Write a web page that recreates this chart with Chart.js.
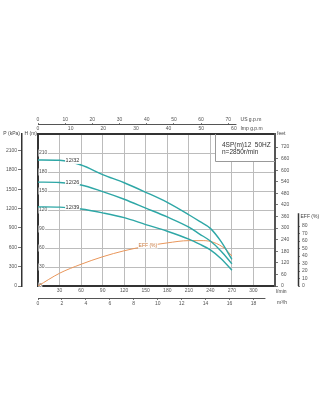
<!DOCTYPE html>
<html>
<head>
<meta charset="utf-8">
<script src="https://cdn.jsdelivr.net/npm/chart.js@4.4.1/dist/chart.umd.min.js"></script>
<style>
  html, body { margin: 0; padding: 0; background: #fff; }
  canvas { display: block; }
</style>
</head>
<body>
<canvas id="pumpChart" width="320" height="420"></canvas>
<script>
// flow in l/min, head in m
const flow = [0, 30, 60, 90, 120, 150, 180, 210, 225, 240, 255, 270];
const head1232 = [199, 198.5, 191, 176, 163, 148, 132, 112.5, 102, 91, 70, 42];
const head1226 = [164, 163.5, 159.5, 149, 137, 123, 109, 93, 82, 71, 55, 35];
const head1239 = [125, 124.5, 121.5, 115.5, 108, 97, 86.5, 74, 66, 57, 43, 25];
const effFlow = [0, 30, 60, 90, 120, 150, 180, 210, 230, 245, 260, 270];
const efficiency = [0, 17, 29, 39, 47, 53, 57.5, 60.5, 60.5, 58, 50, 40];

// tick labels of every axis
const lpmTicks = [30, 60, 90, 120, 150, 180, 210, 240, 270, 300];
const m3hTicks = [0, 2, 4, 6, 8, 10, 12, 14, 16, 18];
const usTicks = [0, 10, 20, 30, 40, 50, 60, 70];
const impTicks = [0, 10, 20, 30, 40, 50, 60];
const headTicks = [0, 30, 60, 90, 120, 150, 180, 210];
const kpaTicks = [0, 300, 600, 900, 1200, 1500, 1800, 2100];
const feetTicks = [0, 60, 120, 180, 240, 300, 360, 420, 480, 540, 600, 660, 720];
const effTicks = [0, 10, 20, 30, 40, 50, 60, 70, 80];

const FLOW_MAX = 330;
const HEAD_MAX = 240;

const CYAN = '#2ea7a6';
const ORANGE = '#e9965a';
const GRID = '#bcbcbc';
const DARK = '#333';

Chart.defaults.font.family = '"Liberation Sans", Arial, sans-serif';
Chart.defaults.font.size = 5;
Chart.defaults.color = '#555';

const toPoints = (xs, ys) => xs.map((x, i) => ({ x: x, y: ys[i] }));
const setTicks = list => scale => { scale.ticks = list.map(v => ({ value: v })); };
const tickOpts = extra => Object.assign({ callback: v => String(v), autoSkip: false, maxRotation: 0 }, extra);

// small tick marks outside the plot, no grid on the area
const outerTicks = (len) => ({ display: true, drawOnChartArea: false, drawTicks: len > 0, tickLength: len, color: '#555', lineWidth: 0.8 });

const curveLabels = [
  ['12/32', 48, 197.5],
  ['12/26', 48, 163],
  ['12/39', 48, 124.5]
];

const extras = {
  id: 'extras',
  afterDraw(chart) {
    const { ctx, chartArea: a, scales } = chart;
    ctx.save();

    // partial axis lines
    ctx.strokeStyle = '#555';
    ctx.lineWidth = 1;
    ctx.beginPath();
    const usY = scales.us.bottom - 0.5;
    ctx.moveTo(a.left, usY);
    ctx.lineTo(scales.us.getPixelForValue(73), usY);
    const m3Y = scales.m3h.top + 0.5;
    ctx.moveTo(a.left, m3Y);
    ctx.lineTo(scales.m3h.getPixelForValue(19), m3Y);
    ctx.stroke();

    ctx.strokeStyle = DARK;
    ctx.lineWidth = 1.5;
    ctx.beginPath();
    const effX = scales.eff.left + 0.5;
    ctx.moveTo(effX, scales.eff.getPixelForValue(0));
    ctx.lineTo(effX, scales.eff.getPixelForValue(97));
    ctx.stroke();

    // unit labels
    ctx.fillStyle = '#444';
    ctx.font = '5px "Liberation Sans", Arial, sans-serif';
    ctx.textBaseline = 'middle';
    ctx.textAlign = 'right';
    ctx.fillText('P (kPa)', 20, a.top);
    ctx.fillText('H (m)', 37, a.top);
    ctx.textAlign = 'left';
    ctx.fillText('feet', a.right + 2, a.top);
    ctx.fillText('US g.p.m', scales.us.getPixelForValue(74.5), scales.us.bottom - 5);
    ctx.fillText('Imp g.p.m', scales.imp.getPixelForValue(62), scales.imp.bottom - 5);
    ctx.fillText('l/min', a.right + 1, a.bottom + 6);
    ctx.fillText('m\u00b3/h', a.right + 2, scales.m3h.top + 5);
    ctx.fillText('EFF (%)', effX + 2, scales.eff.getPixelForValue(92));

    // model box
    const boxL = 215.5;
    const boxB = 161.5;
    ctx.fillStyle = '#fff';
    ctx.fillRect(boxL, a.top + 1, a.right - boxL - 1, boxB - a.top - 1);
    ctx.strokeStyle = '#999';
    ctx.lineWidth = 1;
    ctx.beginPath();
    ctx.moveTo(boxL, a.top);
    ctx.lineTo(boxL, boxB);
    ctx.lineTo(a.right, boxB);
    ctx.stroke();
    ctx.fillStyle = DARK;
    ctx.font = '6.5px "Liberation Sans", Arial, sans-serif';
    ctx.fillText('4SP(m)12  50HZ', 222, 145);
    ctx.fillText('n=2850r/min', 222, 152.5);

    // curve labels
    ctx.font = '5.5px "Liberation Sans", Arial, sans-serif';
    ctx.textAlign = 'center';
    const x = scales.x, y = scales.y;
    curveLabels.forEach(([txt, f, h]) => {
      const px = x.getPixelForValue(f), py = y.getPixelForValue(h);
      const w = ctx.measureText(txt).width;
      ctx.fillStyle = '#fff';
      ctx.fillRect(px - w / 2 - 0.5, py - 3, w + 1, 6);
      ctx.fillStyle = DARK;
      ctx.fillText(txt, px, py);
    });
    const ex = x.getPixelForValue(153), ey = scales.eff.getPixelForValue(54);
    ctx.font = '5px "Liberation Sans", Arial, sans-serif';
    const ew = ctx.measureText('EFF (%)').width;
    ctx.fillStyle = '#fff';
    ctx.fillRect(ex - ew / 2 - 0.5, ey - 3, ew + 1, 6);
    ctx.fillStyle = '#c87a40';
    ctx.fillText('EFF (%)', ex, ey);

    ctx.restore();
  }
};

const curveStyle = {
  borderColor: CYAN,
  borderWidth: 1.4,
  pointRadius: 0,
  cubicInterpolationMode: 'monotone',
  xAxisID: 'x',
  yAxisID: 'y'
};

new Chart(document.getElementById('pumpChart'), {
  type: 'line',
  data: {
    datasets: [
      Object.assign({ label: '12/32', data: toPoints(flow, head1232) }, curveStyle),
      Object.assign({ label: '12/26', data: toPoints(flow, head1226) }, curveStyle),
      Object.assign({ label: '12/39', data: toPoints(flow, head1239) }, curveStyle),
      {
        label: 'EFF (%)',
        data: toPoints(effFlow, efficiency),
        borderColor: ORANGE,
        borderWidth: 1,
        pointRadius: 0,
        cubicInterpolationMode: 'monotone',
        xAxisID: 'x',
        yAxisID: 'eff'
      }
    ]
  },
  options: {
    responsive: false,
    animation: false,
    devicePixelRatio: 1,
    layout: { padding: { top: 115, bottom: 108, left: 0, right: 0 } },
    plugins: { legend: { display: false }, tooltip: { enabled: false } },
    scales: {
      x: {
        type: 'linear', position: 'bottom', weight: 0,
        min: 0, max: FLOW_MAX,
        afterBuildTicks: setTicks(lpmTicks),
        afterFit: s => { s.height = 12; },
        ticks: tickOpts({ padding: 2 }),
        grid: { color: GRID, lineWidth: 1, drawTicks: false },
        border: { color: DARK, width: 2 }
      },
      m3h: {
        type: 'linear', position: 'bottom', weight: 1,
        min: 0, max: FLOW_MAX * 0.06,
        afterBuildTicks: setTicks(m3hTicks),
        afterFit: s => { s.height = 14; },
        ticks: tickOpts({ padding: 0.5 }),
        grid: outerTicks(2),
        border: { display: false }
      },
      us: {
        type: 'linear', position: 'top', weight: 1,
        min: 0, max: FLOW_MAX / 3.785,
        afterBuildTicks: setTicks(usTicks),
        afterFit: s => { s.height = 10; },
        ticks: tickOpts({ padding: 0.5 }),
        grid: outerTicks(2),
        border: { display: false }
      },
      imp: {
        type: 'linear', position: 'top', weight: 0,
        min: 0, max: FLOW_MAX / 4.546,
        afterBuildTicks: setTicks(impTicks),
        afterFit: s => { s.height = 9; },
        ticks: tickOpts({ padding: 2 }),
        grid: outerTicks(0),
        border: { color: DARK, width: 2 }
      },
      y: {
        type: 'linear', position: 'left', weight: 0,
        min: 0, max: HEAD_MAX,
        afterBuildTicks: setTicks(headTicks),
        afterFit: s => { s.width = 16; },
        ticks: tickOpts({ mirror: true, padding: 1, showLabelBackdrop: true, backdropColor: '#fff', backdropPadding: 0.5 }),
        grid: { color: GRID, lineWidth: 1, drawTicks: false },
        border: { color: DARK, width: 2 }
      },
      kpa: {
        type: 'linear', position: 'left', weight: 1,
        min: 0, max: HEAD_MAX * 9.81,
        afterBuildTicks: setTicks(kpaTicks),
        afterFit: s => { s.width = 22; },
        ticks: tickOpts({ padding: 1 }),
        grid: outerTicks(4),
        border: { color: DARK, width: 1.5 }
      },
      feet: {
        type: 'linear', position: 'right', weight: 0,
        min: 0, max: HEAD_MAX / 0.3048,
        afterBuildTicks: setTicks(feetTicks),
        afterFit: s => { s.width = 23; },
        ticks: tickOpts({ padding: 3 }),
        grid: outerTicks(3),
        border: { color: '#555', width: 2 }
      },
      eff: {
        type: 'linear', position: 'right', weight: 1,
        min: 0, max: 152 / 0.75,
        afterBuildTicks: setTicks(effTicks),
        afterFit: s => { s.width = 22; },
        ticks: tickOpts({ padding: 2 }),
        grid: outerTicks(2),
        border: { display: false }
      }
    }
  },
  plugins: [extras]
});
</script>
</body>
</html>
